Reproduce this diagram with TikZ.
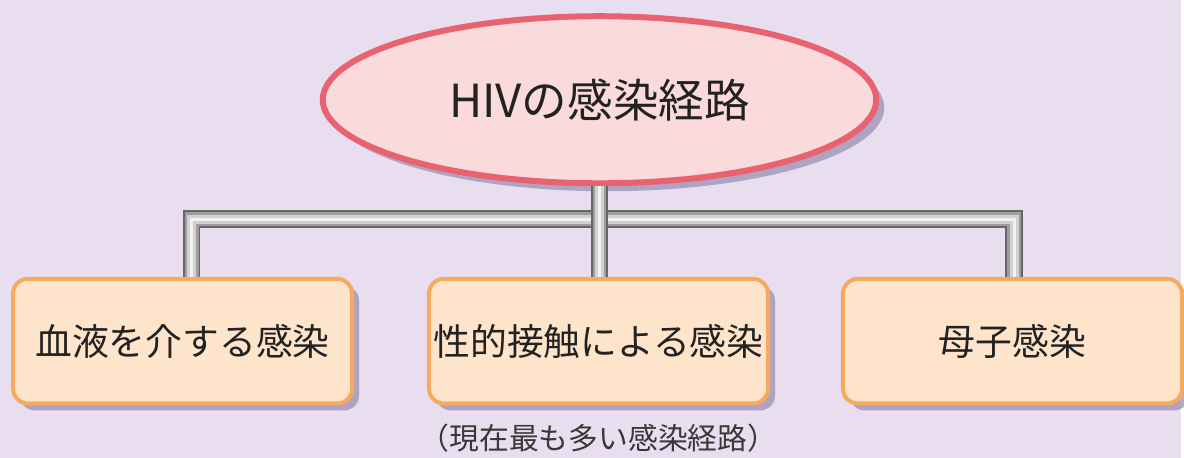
\documentclass[tikz,border=0pt]{standalone}
\usepackage{fontspec}
\newfontfamily\jpfont{Noto Sans CJK JP}
\usetikzlibrary{shapes.geometric}
\usetikzlibrary{shadows}
\usetikzlibrary{positioning}
\definecolor{bgcol}{RGB}{232,222,240}
\definecolor{boxfill}{RGB}{253,228,202}
\definecolor{boxline}{RGB}{246,170,96}
\definecolor{ovalfill}{RGB}{250,218,218}
\definecolor{ovalline}{RGB}{232,98,112}
\definecolor{shadowcol}{RGB}{150,140,175}
\definecolor{txt}{RGB}{34,34,34}
\tikzset{
	route/.style={rectangle, rounded corners=0.3cm, fill=boxfill, draw=boxline, line width=0.08cm,
		minimum width=6.8cm, minimum height=2.5cm, inner sep=0pt, text=txt,
		font=\jpfont\fontsize{21}{25}\selectfont,
		drop shadow={shadow xshift=0.14cm, shadow yshift=-0.14cm, fill=shadowcol, opacity=0.7}},
	pipe/.style={line width=0.36cm, draw=black!60,
		postaction={draw=black!38, line width=0.28cm},
		postaction={draw=black!18, line width=0.17cm},
		postaction={draw=white!95!black, line width=0.07cm}}
}
\begin{document}
\begin{tikzpicture}[x=0.02cm, y=-0.02cm]
	\fill[bgcol] (0,0) rectangle (1184,459);
	\node[ellipse, fill=ovalfill, draw=ovalline, line width=0.12cm, minimum width=11.1cm, minimum height=3.35cm,
		inner sep=0pt, text=txt, font=\jpfont\fontsize{26}{30}\selectfont,
		drop shadow={shadow xshift=0.16cm, shadow yshift=-0.16cm, fill=shadowcol, opacity=0.7}]
		(hiv) at (601,100) {HIVの感染経路};
	\node[route] (blood) at (183,342) {血液を介する感染};
	\node[route] (sex) at (600,342) {性的接触による感染};
	\node[route] (mother) at (1015,342) {母子感染};
	\node[below=0.36cm of sex, inner sep=0pt, text=txt!90!white, font=\jpfont\fontsize{17}{20}\selectfont] (note) {（現在最も多い感染経路）};
	\coordinate (hub) at (601,220);
	\draw[pipe] ([xshift=0.18cm]blood.north) |- (hub) -| ([xshift=0.04cm]mother.north);
	\draw[pipe] (hiv.south) -- (hub) -- (hub |- sex.north);
\end{tikzpicture}
\end{document}
